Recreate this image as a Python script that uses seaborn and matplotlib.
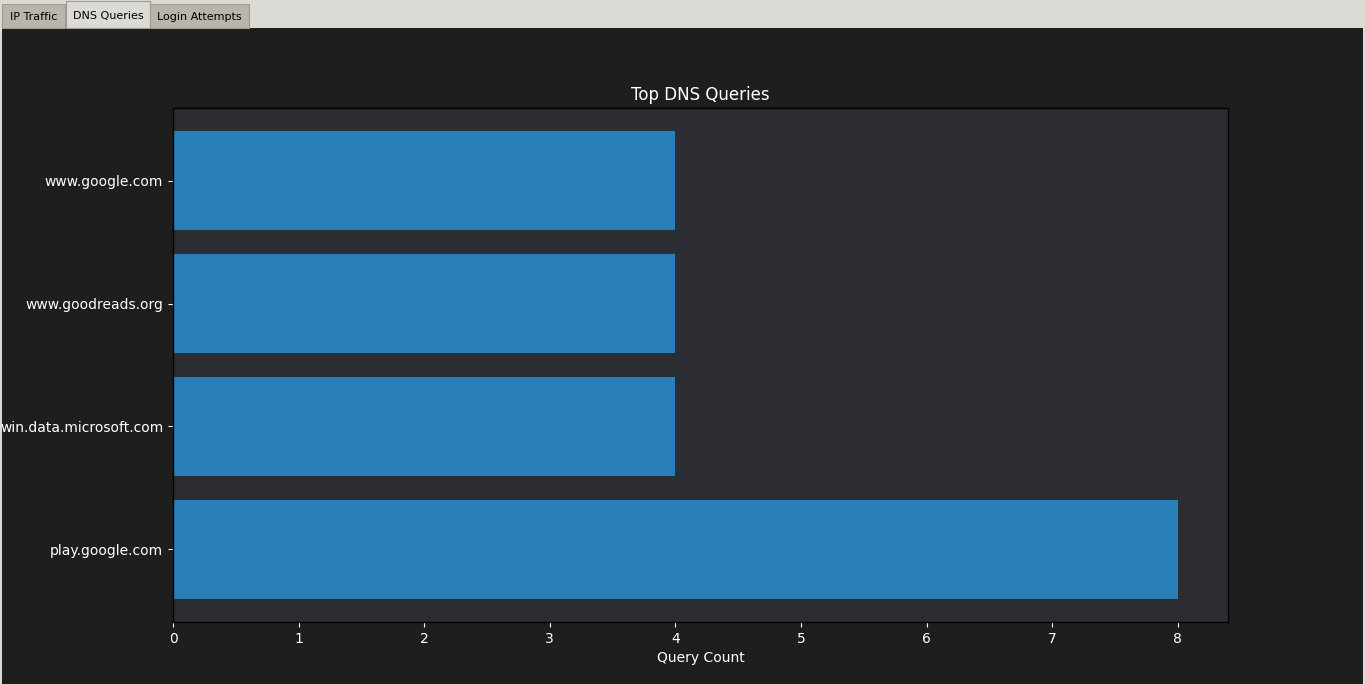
import matplotlib
matplotlib.use("Agg")
import matplotlib.pyplot as plt
import seaborn as sns
import pandas as pd
from matplotlib.patches import Rectangle

domains = ["www.google.com", "www.goodreads.org", "win.data.microsoft.com", "play.google.com"]
counts = [4, 4, 4, 8]
tabs = ["IP Traffic", "DNS Queries", "Login Attempts"]

sns.set_style("dark")
plt.rcParams['font.family'] = ['DejaVu Sans']

W, H = 1365, 684
fig = plt.figure(figsize=(W / 100, H / 100), dpi=100)
fig.patch.set_facecolor("#1e1e1e")

# window chrome: tab bar and borders
def px_rect(x, y, w, h, fc, ec="none", lw=0, z=0):
    fig.patches.append(Rectangle((x / W, 1 - (y + h) / H), w / W, h / H,
                                 transform=fig.transFigure, facecolor=fc,
                                 edgecolor=ec, linewidth=lw, zorder=z))

px_rect(0, 0, W, 28, "#dcdad5")
px_rect(0, 0, 2, H, "#dcdad5")
px_rect(W - 2, 0, 2, H, "#dcdad5")
tab_geo = [(2, 4, 63, 24), (66, 1, 84, 27), (150, 4, 99, 24)]
tab_fc = ["#bab5ab", "#dcdad5", "#bab5ab"]
for (x, y, w, h), fc, name in zip(tab_geo, tab_fc, tabs):
    px_rect(x, y, w, h, fc, ec="#9e9a91", lw=0.8, z=1)
    fig.text((x + w / 2) / W, 1 - (y + h / 2 + 1) / H, name, ha="center", va="center",
             fontsize=8, color="black", zorder=2)

ax = fig.add_axes([173 / W, 1 - 622 / H, (1228 - 173) / W, (622 - 108) / H])
df = pd.DataFrame({"domain": domains, "count": counts})
sns.barplot(data=df, x="count", y="domain", orient="h", color="#2980b9",
            saturation=1, width=0.8, ax=ax)
for p in ax.patches:
    p.set_edgecolor("none")
ax.set_facecolor("#2b2d33")
ax.set_xlim(0, 8.4)
ax.set_ylim(3.59, -0.59)
ax.set_title("Top DNS Queries", color="white", fontsize=12)
ax.set_xlabel("Query Count", color="white", fontsize=10)
ax.set_ylabel("")
ax.tick_params(colors="white", labelsize=10, length=3.5, width=0.8,
               bottom=True, left=True)
ax.grid(False)
for s in ax.spines.values():
    s.set_visible(True)
    s.set_color("black")
    s.set_linewidth(1)

fig.savefig("out.png", dpi=100, facecolor=fig.get_facecolor())
